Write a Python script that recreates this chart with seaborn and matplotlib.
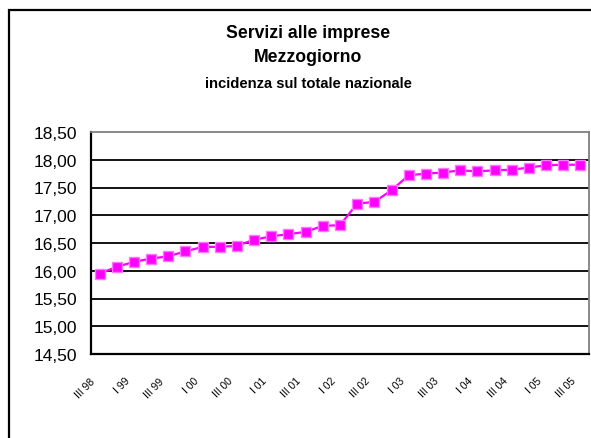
# Servizi alle imprese - Mezzogiorno, incidenza sul totale nazionale
import pandas as pd
import numpy as np
import matplotlib
matplotlib.use("Agg")
import matplotlib.pyplot as plt
import matplotlib.ticker as mtick
import matplotlib.transforms as mtransforms
from matplotlib.patches import Rectangle
import seaborn as sns

# %% Data
quarters = ["III 98", "IV 98",
            "I 99", "II 99", "III 99", "IV 99",
            "I 00", "II 00", "III 00", "IV 00",
            "I 01", "II 01", "III 01", "IV 01",
            "I 02", "II 02", "III 02", "IV 02",
            "I 03", "II 03", "III 03", "IV 03",
            "I 04", "II 04", "III 04", "IV 04",
            "I 05", "II 05", "III 05"]
incidenza = [15.95, 16.07, 16.16, 16.22, 16.26, 16.35, 16.43, 16.43, 16.45, 16.56,
             16.62, 16.66, 16.70, 16.81, 16.82, 17.21, 17.24, 17.45, 17.72, 17.75,
             17.77, 17.81, 17.79, 17.81, 17.82, 17.86, 17.90, 17.91, 17.91]
yticks = [14.5, 15.0, 15.5, 16.0, 16.5, 17.0, 17.5, 18.0, 18.5]

df = pd.DataFrame({"pos": np.arange(len(quarters)), "quarter": quarters, "value": incidenza})

# %% Plot
sns.set_style("white")
plt.rcParams['font.family'] = ['Liberation Sans', 'DejaVu Sans']
plt.rcParams.update({"text.color": "black", "axes.labelcolor": "black",
                     "xtick.color": "black", "ytick.color": "black"})

W, H = 591, 439
fig = plt.figure(figsize=(W / 100, H / 100), dpi=100)

# outer chart frame (cut at right/bottom like the original)
fig.patches.append(Rectangle((9 / W, -0.1), 1.2, 1 - 11 / H + 0.1, transform=fig.transFigure,
                             fill=False, edgecolor="black", linewidth=1.6))

ax = fig.add_axes([91 / W, 1 - 355 / H, (589 - 91) / W, (355 - 133) / H])

sns.lineplot(data=df, x="pos", y="value", color="#FF00FF", linewidth=1.6,
             marker="s", markersize=7, markerfacecolor="#FF00FF",
             markeredgecolor="#FF77FF", markeredgewidth=1.0, ax=ax, zorder=3)

ax.set_xlim(-0.5, len(quarters) - 0.5)
ax.set_ylim(14.5, 18.5)
ax.set_yticks(yticks)
ax.yaxis.set_major_formatter(mtick.FuncFormatter(lambda v, p: f"{v:.2f}".replace(".", ",")))
for v in yticks[1:-1]:
    ax.axhline(v, color="black", linewidth=1.3, zorder=1)

ax.set_xticks(df["pos"][::2])
ax.set_xticklabels(df["quarter"][::2], rotation=45, ha="right", va="center",
                   rotation_mode="anchor", fontsize=7.5)
ax.set_xticks(np.arange(-0.5, len(quarters)), minor=True)
ax.tick_params(axis="x", which="major", length=0, pad=18)
ax.tick_params(axis="x", which="minor", direction="out", length=4, width=1.2, color="black")
ax.tick_params(axis="y", direction="out", length=3.6, width=1.2, color="black", pad=6.5,
               labelsize=12.5)
offset = mtransforms.ScaledTranslation(-6 / 100, 0, fig.dpi_scale_trans)
for lab in ax.get_xticklabels():
    lab.set_transform(lab.get_transform() + offset)

ax.set_xlabel("")
ax.set_ylabel("")
for side in ["left", "bottom"]:
    ax.spines[side].set_color("black")
    ax.spines[side].set_linewidth(1.6)
for side in ["top", "right"]:
    ax.spines[side].set_color("#808080")
    ax.spines[side].set_linewidth(1.3)

cx = 308 / W
fig.text(cx, 1 - 33 / H, "Servizi alle imprese", ha="center", va="center",
         fontsize=12.7, fontweight="bold")
fig.text(cx, 1 - 58 / H, "Mezzogiorno", ha="center", va="center",
         fontsize=12.7, fontweight="bold")
fig.text(cx, 1 - 84 / H, "incidenza sul totale nazionale", ha="center", va="center",
         fontsize=10.6, fontweight="bold")

fig.savefig("out.png", dpi=100)
